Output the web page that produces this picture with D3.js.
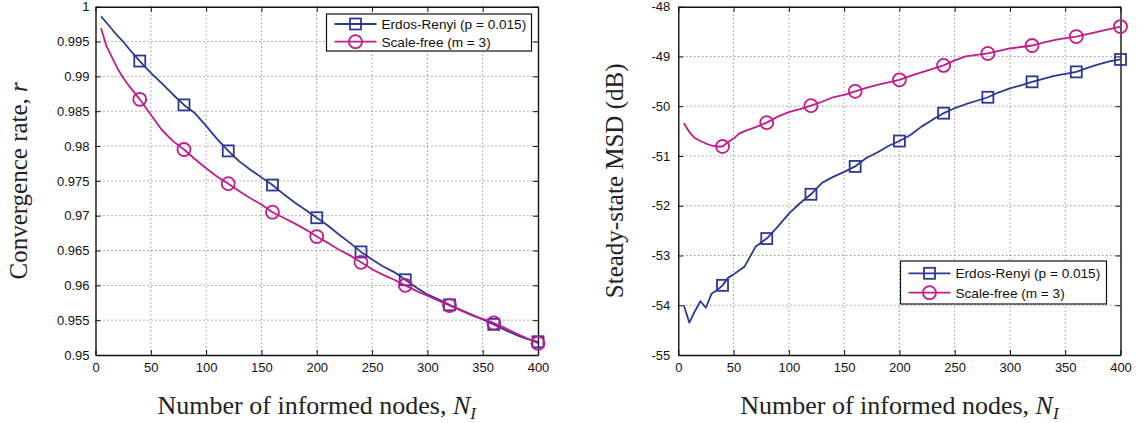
<!DOCTYPE html>
<html>
<head>
<meta charset="utf-8">
<script src="https://cdn.jsdelivr.net/npm/d3@7"></script>
<style>
  html, body { margin: 0; padding: 0; background: #fff; }
  svg { display: block; }
  .tick text { font-family: "Liberation Sans", Arial, sans-serif; font-size: 13px; fill: #111; }
  .axis-title { font-family: "Liberation Serif", "Times New Roman", serif; fill: #222; }
  .legend-text { font-family: "Liberation Sans", Arial, sans-serif; font-size: 13.6px; fill: #111; }
</style>
</head>
<body>
<svg id="chart" width="1144" height="423"></svg>
<script>
// ---- Data ----------------------------------------------------------------
const seriesNames = ["Erdos-Renyi (p = 0.015)", "Scale-free (m = 3)"];
const markerN = [40, 80, 120, 160, 200, 240, 280, 320, 360, 400];

// Convergence rate r vs number of informed nodes
const rateN = [5, 10, 20, 25, 30, 40, 50, 60, 70, 80, 90, 100, 110, 120, 130, 140, 150, 160, 170, 180, 190,
  200, 210, 220, 230, 240, 250, 260, 270, 280, 290, 300, 310, 320, 330, 340, 350, 360, 370, 380, 390, 400];
const rateER = [0.9986, 0.9977, 0.9958, 0.9950, 0.9940, 0.9922, 0.9905, 0.9890, 0.9874, 0.9859, 0.9847,
  0.9829, 0.9810, 0.9793, 0.9778, 0.9766, 0.9755, 0.9744, 0.9731, 0.9719, 0.9708,
  0.9697, 0.9686, 0.9673, 0.9661, 0.9648, 0.9637, 0.9627, 0.9619, 0.9608, 0.9597,
  0.9587, 0.9580, 0.9572, 0.9565, 0.9558, 0.9551, 0.9544, 0.9536, 0.9529, 0.9523, 0.9519];
const rateSF = [0.9969, 0.9943, 0.9911, 0.9898, 0.9887, 0.9867, 0.9845, 0.9823, 0.9807, 0.9795, 0.9781,
  0.9768, 0.9756, 0.9746, 0.9735, 0.9725, 0.9716, 0.9705, 0.9697, 0.9689, 0.9680,
  0.9670, 0.9661, 0.9651, 0.9643, 0.9633, 0.9623, 0.9615, 0.9608, 0.9600, 0.9592,
  0.9585, 0.9578, 0.9571, 0.9564, 0.9557, 0.9552, 0.9546, 0.9539, 0.9531, 0.9524, 0.9517];

// Steady-state MSD (dB) vs number of informed nodes
const msdN = [5, 10, 15, 20, 25, 30, 35, 40, 45, 50, 55, 60, 70, 80, 90, 100, 110, 120, 130, 140, 150, 160, 170, 180, 190,
  200, 210, 220, 230, 240, 250, 260, 270, 280, 290, 300, 310, 320, 330, 340, 350, 360, 370, 380, 390, 400];
const msdER = [-54.00, -54.35, -54.12, -53.92, -54.05, -53.77, -53.70, -53.60, -53.45, -53.38, -53.30, -53.22,
  -52.82, -52.66, -52.42, -52.16, -51.95, -51.77, -51.54, -51.42, -51.32, -51.21, -51.04, -50.93, -50.80,
  -50.70, -50.58, -50.41, -50.27, -50.14, -50.04, -49.96, -49.89, -49.82, -49.72, -49.64, -49.58, -49.51,
  -49.45, -49.39, -49.35, -49.31, -49.23, -49.16, -49.10, -49.06];
const msdSF = [-50.34, -50.52, -50.64, -50.70, -50.75, -50.79, -50.81, -50.81, -50.72, -50.65, -50.55, -50.50,
  -50.42, -50.33, -50.21, -50.12, -50.06, -49.99, -49.91, -49.82, -49.77, -49.70, -49.63, -49.57, -49.52,
  -49.47, -49.39, -49.32, -49.25, -49.18, -49.08, -49.00, -48.97, -48.94, -48.89, -48.84, -48.81, -48.78,
  -48.72, -48.67, -48.63, -48.60, -48.55, -48.50, -48.45, -48.40];

// Axis ticks
const xTicks = [0, 50, 100, 150, 200, 250, 300, 350, 400];
const xTickLabels = ["0", "50", "100", "150", "200", "250", "300", "350", "400"];
const rateTicks = [0.95, 0.955, 0.96, 0.965, 0.97, 0.975, 0.98, 0.985, 0.99, 0.995, 1];
const rateTickLabels = ["0.95", "0.955", "0.96", "0.965", "0.97", "0.975", "0.98", "0.985", "0.99", "0.995", "1"];
const msdTicks = [-55, -54, -53, -52, -51, -50, -49, -48];
const msdTickLabels = ["-55", "-54", "-53", "-52", "-51", "-50", "-49", "-48"];

// ---- Drawing -------------------------------------------------------------
const colors = ["#2b3991", "#c11b8e"];
const svg = d3.select("#chart");

function drawPanel(p) {
  const x = d3.scaleLinear().domain([0, 400]).range([p.left, p.right]);
  const y = d3.scaleLinear().domain(p.yDomain).range([p.bottom, p.top]);
  const g = svg.append("g");

  // dotted grid
  g.append("g").selectAll("line").data(xTicks.slice(1, -1)).join("line")
    .attr("x1", d => x(d)).attr("x2", d => x(d)).attr("y1", p.top).attr("y2", p.bottom)
    .attr("stroke", "#666").attr("stroke-width", 1).attr("stroke-dasharray", "1,3");
  g.append("g").selectAll("line").data(p.yTicks.slice(1, -1)).join("line")
    .attr("y1", d => y(d)).attr("y2", d => y(d)).attr("x1", p.left).attr("x2", p.right)
    .attr("stroke", "#666").attr("stroke-width", 1).attr("stroke-dasharray", "1,3");

  const fmtX = d => xTickLabels[xTicks.indexOf(d)];
  const fmtY = d => p.yTickLabels[p.yTicks.indexOf(d)];

  // axes with inward ticks on all four sides
  const ax = [
    g.append("g").attr("transform", `translate(0,${p.bottom})`)
      .call(d3.axisBottom(x).tickValues(xTicks).tickFormat(fmtX).tickSizeInner(-5).tickSizeOuter(0).tickPadding(8)),
    g.append("g").attr("transform", `translate(0,${p.top})`)
      .call(d3.axisTop(x).tickValues(xTicks).tickFormat("").tickSizeInner(-5).tickSizeOuter(0)),
    g.append("g").attr("transform", `translate(${p.left},0)`)
      .call(d3.axisLeft(y).tickValues(p.yTicks).tickFormat(fmtY).tickSizeInner(-5).tickSizeOuter(0).tickPadding(p.yPad)),
    g.append("g").attr("transform", `translate(${p.right},0)`)
      .call(d3.axisRight(y).tickValues(p.yTicks).tickFormat("").tickSizeInner(-5).tickSizeOuter(0))
  ];
  ax.forEach(a => {
    a.select(".domain").attr("stroke", "#111").attr("stroke-width", 1.4);
    a.selectAll(".tick line").attr("stroke", "#111").attr("stroke-width", 1);
    a.selectAll(".tick text").attr("fill", "#111");
  });

  // series lines and markers (Scale-free drawn last, on top)
  const line = d3.line().x((d, i) => x(p.n[i])).y(d => y(d));
  p.series.forEach((vals, k) => {
    g.append("path").datum(vals).attr("d", line)
      .attr("fill", "none").attr("stroke", colors[k]).attr("stroke-width", 1.8)
      .attr("stroke-linejoin", "round");
    const pts = markerN.map(m => [m, vals[p.n.indexOf(m)]]);
    drawMarkers(g, pts.map(d => [x(d[0]), y(d[1])]), k);
  });

  // legend
  const L = p.legend;
  g.append("rect").attr("x", L.x).attr("y", L.y).attr("width", L.w).attr("height", L.h)
    .attr("fill", "#fff").attr("stroke", "#111").attr("stroke-width", 1.2);
  seriesNames.forEach((name, k) => {
    const yy = L.y + L.row0 + k * L.rowGap;
    g.append("line").attr("x1", L.x + 8).attr("x2", L.x + 50).attr("y1", yy).attr("y2", yy)
      .attr("stroke", colors[k]).attr("stroke-width", 1.8);
    drawMarkers(g, [[L.x + 29, yy]], k);
    g.append("text").attr("class", "legend-text").attr("x", L.x + 55).attr("y", yy + 5).text(name);
  });

  // axis titles
  const xt = g.append("text").attr("class", "axis-title").attr("text-anchor", "middle")
    .attr("font-size", "26px")
    .attr("x", (p.left + p.right) / 2).attr("y", 414);
  xt.append("tspan").text("Number of informed nodes, ");
  xt.append("tspan").attr("font-style", "italic").text("N");
  xt.append("tspan").attr("font-style", "italic").attr("font-size", "17px").attr("dy", 5).text("I");

  const yt = g.append("text").attr("class", "axis-title").attr("text-anchor", "middle")
    .attr("font-size", "25px")
    .attr("transform", `translate(${p.yTitleX},${(p.top + p.bottom) / 2}) rotate(-90)`);
  yt.append("tspan").text(p.yTitle);
  if (p.yTitleVar) yt.append("tspan").attr("font-style", "italic").text(p.yTitleVar);
}

function drawMarkers(g, pts, k) {
  if (k === 0) {
    g.append("g").selectAll("rect").data(pts).join("rect")
      .attr("x", d => d[0] - 5.5).attr("y", d => d[1] - 5.5).attr("width", 11).attr("height", 11)
      .attr("fill", "none").attr("stroke", colors[0]).attr("stroke-width", 1.8);
  } else {
    g.append("g").selectAll("circle").data(pts).join("circle")
      .attr("cx", d => d[0]).attr("cy", d => d[1]).attr("r", 6.5)
      .attr("fill", "none").attr("stroke", colors[1]).attr("stroke-width", 1.8);
  }
}

drawPanel({
  left: 95.5, right: 538, top: 6.7, bottom: 355,
  yDomain: [0.95, 1], yTicks: rateTicks, yTickLabels: rateTickLabels, yPad: 6,
  n: rateN, series: [rateER, rateSF],
  legend: { x: 326.5, y: 14, w: 205, h: 37, row0: 10, rowGap: 17.7 },
  yTitle: "Convergence rate, ", yTitleVar: "r", yTitleX: 27
});

drawPanel({
  left: 678.3, right: 1120.5, top: 6.7, bottom: 355,
  yDomain: [-55, -48], yTicks: msdTicks, yTickLabels: msdTickLabels, yPad: 8,
  n: msdN, series: [msdER, msdSF],
  legend: { x: 900.5, y: 261, w: 206, h: 43, row0: 12.3, rowGap: 19.4 },
  yTitle: "Steady-state MSD (dB)", yTitleVar: null, yTitleX: 623
});
</script>
</body>
</html>
